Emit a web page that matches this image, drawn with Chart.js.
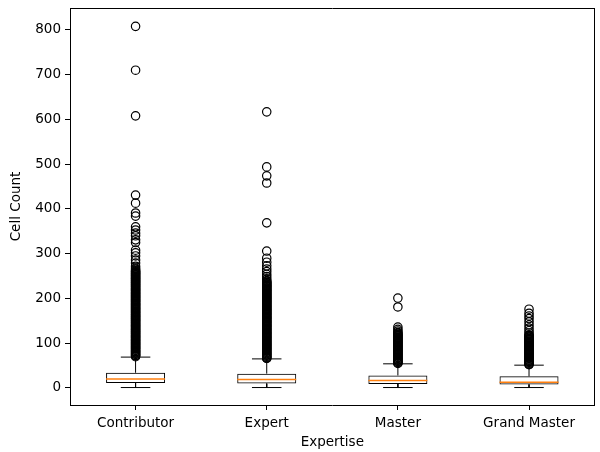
<!DOCTYPE html>
<html>
<head>
<meta charset="utf-8">
<script src="https://cdn.jsdelivr.net/npm/chart.js@4"></script>
<style>
  html, body { margin: 0; padding: 0; background: #fff; }
  #wrap { width: 600px; height: 452px; }
</style>
</head>
<body>
<div id="wrap"><canvas id="c" width="600" height="452"></canvas></div>
<script>
// ---- Data ----
const categories = ['Contributor', 'Expert', 'Master', 'Grand Master'];
const whiskerLow  = [1, 1, 1, 1];
const quartile1   = [11, 10, 9, 8];
const medians     = [20, 19, 17, 13];
const quartile3   = [34, 32, 28, 26];
const whiskerHigh = [69, 65, 54, 51];

const outliersContributor = [808, 710, 608, 431, 413, 391, 384, 360, 353, 346, 340, 331, 325, 308, 302, 295, 286, 279, 272, 268, 265,
  262, 261, 259, 258, 256, 255, 253, 252, 250, 249, 247, 246, 244, 243, 241, 240, 238, 237, 235, 234, 232, 231, 229, 228,
  226, 225, 223, 222, 220, 219, 217, 216, 214, 213, 211, 210, 208, 207, 205, 204, 202, 201, 199, 198, 196, 195, 193, 192,
  190, 189, 187, 186, 184, 183, 181, 180, 178, 177, 175, 174, 172, 171, 169, 168, 166, 165, 163, 162, 160, 159, 157, 156,
  154, 153, 151, 150, 148, 147, 145, 144, 142, 141, 139, 138, 136, 135, 133, 132, 130, 129, 127, 126, 124, 123, 121, 120,
  118, 117, 115, 114, 112, 111, 109, 108, 106, 105, 103, 102, 100, 99, 97, 96, 94, 93, 91, 90, 88, 87, 85, 84, 82, 81,
  79, 78, 76, 75, 73, 72, 70];
const outliersExpert = [617, 494, 474, 458, 369, 306, 290, 281, 273, 266, 260, 254, 249, 244, 240,
  238, 236, 235, 233, 232, 230, 229, 227, 226, 224, 223, 221, 220, 218, 217, 215, 214, 212, 211, 209, 208, 206, 205, 203,
  202, 200, 199, 197, 196, 194, 193, 191, 190, 188, 187, 185, 184, 182, 181, 179, 178, 176, 175, 173, 172, 170, 169, 167,
  166, 164, 163, 161, 160, 158, 157, 155, 154, 152, 151, 149, 148, 146, 145, 143, 142, 140, 139, 137, 136, 134, 133, 131,
  130, 128, 127, 125, 124, 122, 121, 119, 118, 116, 115, 113, 112, 110, 109, 107, 106, 104, 103, 101, 100, 98, 97, 95,
  94, 92, 91, 89, 88, 86, 85, 83, 82, 80, 79, 77, 76, 74, 73, 71, 70, 68, 67, 66];
const outliersMaster = [201, 181, 136, 131, 127, 124, 122, 120, 119, 117, 116, 114, 113, 111, 110, 108, 107, 105, 104,
  102, 101, 99, 98, 96, 95, 93, 92, 90, 89, 87, 86, 84, 83, 81, 80, 78, 77, 75, 74, 72, 71, 69, 68, 66, 65, 63, 62,
  60, 59, 57, 56, 55];
const outliersGrandMaster = [176, 167, 161, 155, 148, 141, 134, 128, 123, 119, 117, 116, 114, 113, 111, 110, 108, 107,
  105, 104, 102, 101, 99, 98, 96, 95, 93, 92, 90, 89, 87, 86, 84, 83, 81, 80, 78, 77, 75, 74, 72, 71, 69, 68, 66, 65,
  63, 62, 60, 59, 57, 56, 54, 53, 52];
const outlierLists = [outliersContributor, outliersExpert, outliersMaster, outliersGrandMaster];

const yTickValues = [0, 100, 200, 300, 400, 500, 600, 700, 800];

// ---- Build library structures ----
const positions = categories.map((_, i) => i + 1);
const boxWidth = 0.45;          // box width in axis units
const capHalf = boxWidth / 4;   // caps are half the box width
const medHalf = boxWidth / 2;

const boxData = positions.map((p, i) => ({ x: p, y: [quartile1[i], quartile3[i]] }));

const whiskerData = [];
const capData = [];
const medianData = [];
positions.forEach((p, i) => {
  whiskerData.push({ x: p, y: quartile1[i] }, { x: p, y: whiskerLow[i] }, { x: p, y: null });
  whiskerData.push({ x: p, y: quartile3[i] }, { x: p, y: whiskerHigh[i] }, { x: p, y: null });
  capData.push({ x: p - capHalf, y: whiskerLow[i] }, { x: p + capHalf, y: whiskerLow[i] }, { x: p, y: null });
  capData.push({ x: p - capHalf, y: whiskerHigh[i] }, { x: p + capHalf, y: whiskerHigh[i] }, { x: p, y: null });
  medianData.push({ x: p - medHalf, y: medians[i] }, { x: p + medHalf, y: medians[i] }, { x: p, y: null });
});
const outlierData = [];
outlierLists.forEach((list, i) => list.forEach(v => outlierData.push({ x: positions[i], y: v })));

const FONT = 'DejaVu Sans';
const FSIZE = 13.5;
const plainEdge = {
  display: true,
  ticks: { display: false },
  grid: { display: true, drawOnChartArea: false, drawTicks: false, offset: false },
  border: { display: true, color: '#000', width: 1 }
};

new Chart(document.getElementById('c'), {
  type: 'bar',
  data: {
    datasets: [
      { type: 'bar', data: boxData, backgroundColor: 'rgba(255,255,255,0)', borderColor: '#000',
        borderWidth: 1, borderSkipped: false, categoryPercentage: 1, barPercentage: boxWidth, order: 3 },
      { type: 'line', data: whiskerData, borderColor: '#000', borderWidth: 1, pointRadius: 0, spanGaps: false, order: 2 },
      { type: 'line', data: capData, borderColor: '#000', borderWidth: 1, pointRadius: 0, spanGaps: false, order: 2 },
      { type: 'line', data: medianData, borderColor: '#ff7f0e', borderWidth: 1.5, pointRadius: 0, spanGaps: false, order: 1 },
      { type: 'scatter', data: outlierData, pointRadius: 4.2, pointBorderWidth: 1.2,
        pointBorderColor: '#000', pointBackgroundColor: 'rgba(0,0,0,0)', order: 0 }
    ]
  },
  options: {
    responsive: false,
    animation: false,
    layout: { padding: { top: 8, right: 3, left: 0, bottom: 0 } },
    plugins: { legend: { display: false }, tooltip: { enabled: false } },
    scales: {
      x: {
        type: 'linear', position: 'bottom', min: 0.5, max: 4.5, offset: false,
        afterBuildTicks: s => { s.ticks = positions.map(v => ({ value: v })); },
        afterFit: s => { s.height = 47; },
        ticks: { callback: v => categories[v - 1] || '', color: '#000', font: { family: FONT, size: FSIZE }, padding: 5, maxRotation: 0 },
        grid: { drawOnChartArea: false, drawTicks: true, tickLength: 5, color: '#000', offset: false },
        border: { color: '#000' },
        title: { display: true, text: 'Expertise', color: '#000', font: { family: FONT, size: FSIZE }, padding: { top: 0, bottom: 1 } }
      },
      xTop: Object.assign({ type: 'linear', position: 'top', min: 0.5, max: 4.5, afterFit: s => { s.height = 0; } }, plainEdge),
      y: {
        type: 'linear', position: 'left', min: -38, max: 849,
        afterBuildTicks: s => { s.ticks = yTickValues.map(v => ({ value: v })); },
        afterFit: s => { s.width = 70; s.paddingTop = 0; s.paddingBottom = 0; },
        ticks: { color: '#000', font: { family: FONT, size: FSIZE }, padding: 4 },
        grid: { drawOnChartArea: false, drawTicks: true, tickLength: 5, color: '#000' },
        border: { color: '#000' },
        title: { display: true, text: 'Cell Count', color: '#000', font: { family: FONT, size: FSIZE }, padding: { top: 8, bottom: 2 } }
      },
      yRight: Object.assign({ type: 'linear', position: 'right', min: -38, max: 849,
        afterFit: s => { s.width = 0; s.paddingTop = 0; s.paddingBottom = 0; } }, plainEdge)
    }
  }
});
</script>
</body>
</html>
